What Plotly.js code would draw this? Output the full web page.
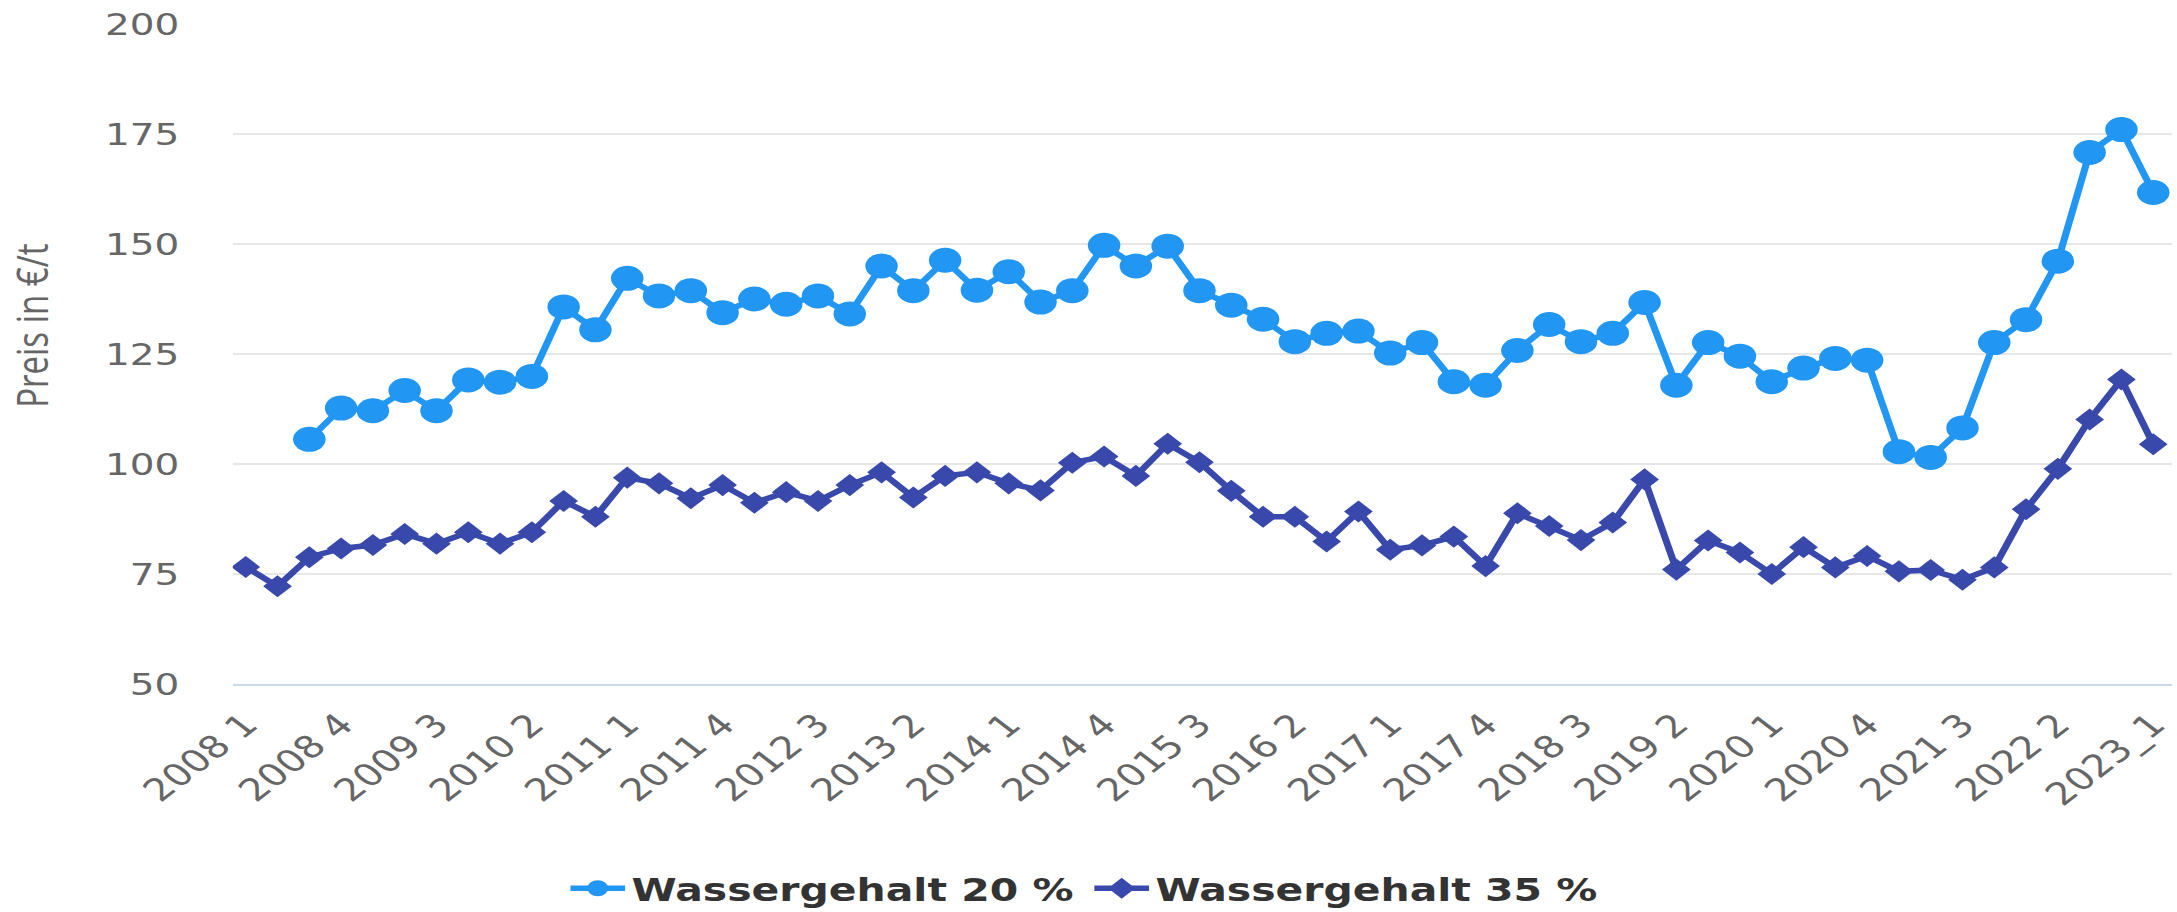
<!DOCTYPE html>
<html>
<head>
<meta charset="utf-8">
<script src="https://cdn.plot.ly/plotly-3.0.1.min.js"></script>
<style>
  html, body { margin: 0; padding: 0; background: #ffffff; overflow: hidden; }
  #wrap { width: 2177px; height: 912px; overflow: hidden; position: relative; }
  #chart { width: 1675px; height: 912px; transform: scaleX(1.3); transform-origin: 0 0; }
</style>
</head>
<body>
<div id="wrap"><div id="chart"></div></div>
<script>
// Quarterly categories
const categories = [
  "2008 1","2008 2","2008 3","2008 4",
  "2009 1","2009 2","2009 3","2009 4",
  "2010 1","2010 2","2010 3","2010 4",
  "2011 1","2011 2","2011 3","2011 4",
  "2012 1","2012 2","2012 3","2012 4",
  "2013 1","2013 2","2013 3","2013 4",
  "2014 1","2014 2","2014 3","2014 4",
  "2015 1","2015 2","2015 3","2015 4",
  "2016 1","2016 2","2016 3","2016 4",
  "2017 1","2017 2","2017 3","2017 4",
  "2018 1","2018 2","2018 3","2018 4",
  "2019 1","2019 2","2019 3","2019 4",
  "2020 1","2020 2","2020 3","2020 4",
  "2021 1","2021 2","2021 3","2021 4",
  "2022 1","2022 2","2022 3","2022 4",
  "2023_1"
];

// Shown tick labels
const tickLabels = [
  "2008 1","2008 4","2009 3","2010 2","2011 1","2011 4","2012 3",
  "2013 2","2014 1","2014 4","2015 3","2016 2","2017 1","2017 4",
  "2018 3","2019 2","2020 1","2020 4","2021 3","2022 2","2023_1"
];

// Price in EUR/t, water content 20 %
const wasser20 = [
  null, null, 105.6, 112.7,
  112.1, 116.7, 112.1, 119.1,
  118.6, 119.9, 135.7, 130.5,
  142.2, 138.2, 139.4, 134.4,
  137.5, 136.3, 138.2, 134.1,
  145.0, 139.4, 146.3, 139.5,
  143.7, 136.8, 139.4, 149.7,
  145.0, 149.5, 139.4, 136.1,
  132.9, 127.8, 129.7, 130.2,
  125.2, 127.6, 118.7, 117.9,
  125.8, 131.7, 127.8, 129.7,
  136.7, 117.9, 127.6, 124.5,
  118.7, 121.8, 124.0, 123.6,
  102.8, 101.5, 108.2, 127.6,
  132.8, 146.1, 170.8, 176.0,
  161.7
];

// Price in EUR/t, water content 35 %
const wasser35 = [
  76.6, 72.2, 78.8, 80.8,
  81.6, 84.1, 81.9, 84.5,
  81.9, 84.5, 91.6, 88.0,
  96.9, 95.6, 92.2, 95.2,
  91.2, 93.6, 91.6, 95.2,
  98.1, 92.4, 97.3, 98.1,
  95.6, 94.0, 100.3, 101.7,
  97.3, 104.6, 100.4, 93.9,
  88.0, 88.0, 82.4, 89.2,
  80.5, 81.5, 83.5, 76.8,
  88.8, 85.9, 82.7, 86.7,
  96.5, 76.0, 82.6, 79.9,
  75.0, 81.1, 76.5, 79.1,
  75.6, 75.9, 73.7, 76.5,
  89.7, 98.9, 110.1, 119.2,
  104.5
];

const yTicks = [50, 75, 100, 125, 150, 175, 200];
const yTitle = "Preis in €/t";

const traces = [
  {
    type: "scatter", mode: "lines+markers",
    name: "Wassergehalt 20 %",
    x: categories, y: wasser20,
    line: { color: "#2196f3", width: 5.5 },
    marker: { symbol: "circle", size: 25, color: "#2196f3" },
    connectgaps: false
  },
  {
    type: "scatter", mode: "lines+markers",
    name: "Wassergehalt 35 %",
    x: categories, y: wasser35,
    line: { color: "#3949ab", width: 5.5 },
    marker: { symbol: "diamond", size: 17, color: "#3949ab" }
  }
];

const layout = {
  width: 1675, height: 912,
  margin: { l: 179, r: 4, t: 24, b: 228 },
  paper_bgcolor: "#ffffff",
  plot_bgcolor: "#ffffff",
  showlegend: true,
  legend: {
    orientation: "h",
    xref: "container", yref: "container",
    x: 0.259, xanchor: "left",
    y: 0.026, yanchor: "middle",
    font: { family: "DejaVu Sans", size: 31.5, color: "#333333", weight: "bold" },
    itemwidth: 42,
    entrywidth: 346, entrywidthmode: "pixels"
  },
  xaxis: {
    type: "category",
    range: [-0.41, 60.6],
    tickmode: "array",
    tickvals: tickLabels,
    ticktext: tickLabels,
    tickangle: -45,
    tickfont: { family: "DejaVu Sans", size: 31, color: "#666666" },
    ticklabelstandoff: 8,
    showgrid: false,
    showline: true, linecolor: "#ccd6eb", linewidth: 2,
    ticks: "", zeroline: false,
    automargin: false
  },
  yaxis: {
    range: [50, 200],
    tickmode: "array",
    tickvals: yTicks,
    tickfont: { family: "DejaVu Sans", size: 30, color: "#666666" },
    ticklabelstandoff: 40,
    showgrid: true, gridcolor: "#e6e6e6", gridwidth: 1.5,
    zeroline: false, showline: false, ticks: "",
    automargin: false
  },
  annotations: [
    {
      text: yTitle,
      xref: "paper", yref: "paper",
      x: -0.1035, y: 0.542,
      xanchor: "center", yanchor: "middle",
      textangle: -90, showarrow: false,
      font: { family: "Open Sans", size: 33, color: "#666666" }
    }
  ],
  hovermode: false
};

Plotly.newPlot("chart", traces, layout, { displayModeBar: false, staticPlot: true });
</script>
</body>
</html>
